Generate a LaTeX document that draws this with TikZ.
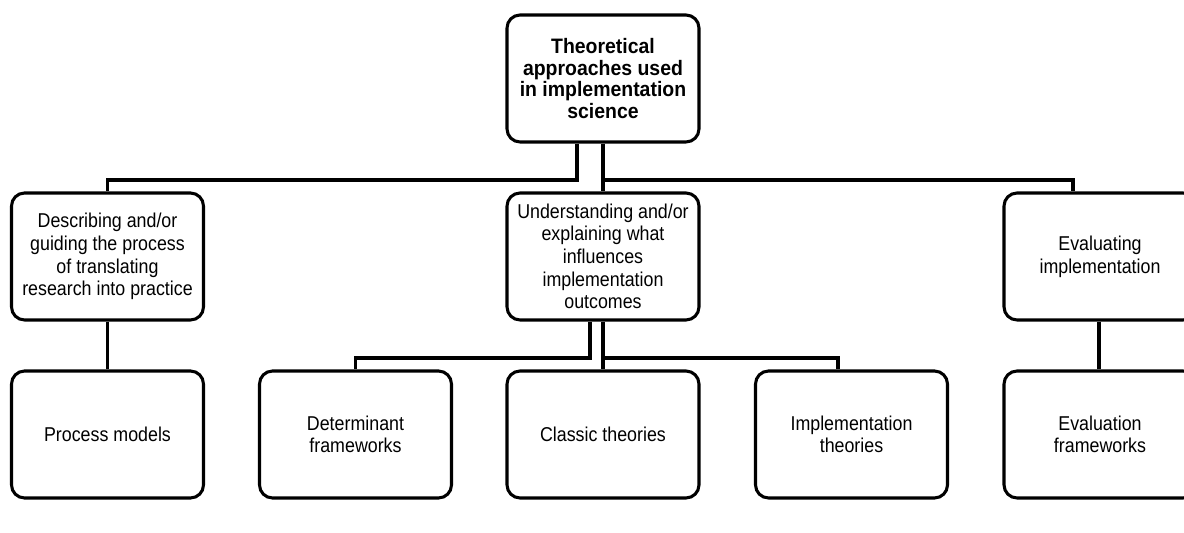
\documentclass[tikz,border=0pt]{standalone}
\usepackage{fontspec}
\setmainfont{Liberation Sans}[FakeStretch=0.89,BoldFeatures={FakeStretch=0.93}]
\begin{document}
\begin{tikzpicture}[x=0.02cm,y=-0.02cm,
  box/.style={draw,line width=1.75pt,rounded corners=0.26cm,
    minimum width=3.84cm,minimum height=2.54cm,align=center,inner sep=2pt,
    font=\fontsize{11.4}{12.9}\selectfont},
  topbox/.style={box,font=\fontsize{11.9}{12.4}\selectfont\bfseries},
  link/.style={line width=1.75pt}]
\useasboundingbox (0,0) rectangle (1184,533);
\clip (0,0) rectangle (1184,533);

% root
\node[topbox] (top) at (603,78.5) {Theoretical\\approaches used\\in implementation\\science};

% second level
\node[box] (left)  at (107.5,256.5) {Describing and/or\\guiding the process\\of translating\\research into practice};
\node[box] (mid)   at (603,256.5)   {Understanding and/or\\explaining what\\influences\\implementation\\outcomes};
\node[box] (right) at (1100,256.5)  {Evaluating\\implementation};

% third level
\node[box] (proc)    at (107.5,434.5) {Process models};
\node[box] (det)     at (355.5,434.5) {Determinant\\frameworks};
\node[box] (classic) at (603,434.5)   {Classic theories};
\node[box] (impl)    at (851.5,434.5) {Implementation\\theories};
\node[box] (evalf)   at (1100,434.5)  {Evaluation\\frameworks};

% horizontal bus levels
\coordinate (busTop) at (0,180);
\coordinate (busMid) at (0,358);

% root to second level
\draw[link] ([xshift=-0.52cm]top.south) |- (left.north |- busTop) -- (left.north);
\draw[link] (top.south) -- (mid.north);
\draw[link] (top.south |- busTop) -| ([xshift=-0.54cm]right.north);

% second level to third level
\draw[link] ([xshift=-0.26cm]mid.south) |- (det.north |- busMid) -- (det.north);
\draw[link] (mid.south) -- (classic.north);
\draw[link] (mid.south |- busMid) -| ([xshift=-0.27cm]impl.north);
\draw[link] (left.south) -- (proc.north);
\draw[link] ([xshift=-0.02cm]right.south) -- ([xshift=-0.02cm]evalf.north);
\end{tikzpicture}
\end{document}
